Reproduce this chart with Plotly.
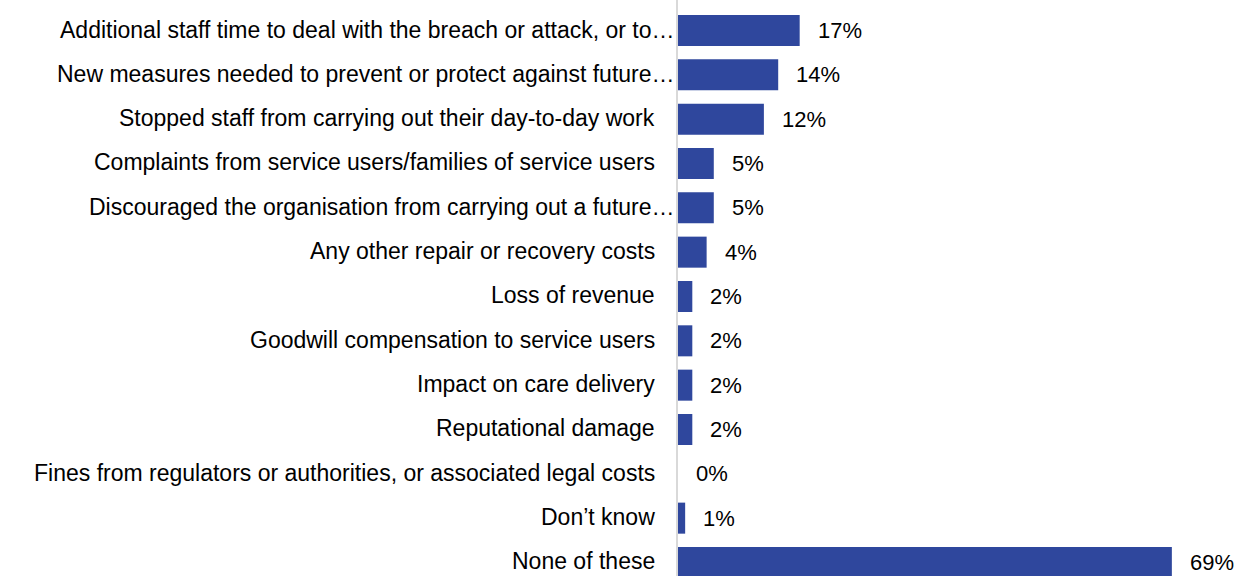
import plotly.graph_objects as go

# Impacts of the breach or attack, share of organisations (%)
categories = [
    "Additional staff time to deal with the breach or attack, or to…",
    "New measures needed to prevent or protect against future…",
    "Stopped staff from carrying out their day-to-day work",
    "Complaints from service users/families of service users",
    "Discouraged the organisation from carrying out a future…",
    "Any other repair or recovery costs",
    "Loss of revenue",
    "Goodwill compensation to service users",
    "Impact on care delivery",
    "Reputational damage",
    "Fines from regulators or authorities, or associated legal costs",
    "Don’t know",
    "None of these",
]
values = [17, 14, 12, 5, 5, 4, 2, 2, 2, 2, 0, 1, 69]
value_labels = [f"{v}%" for v in values]

BAR_COLOR = "#2F479D"
FONT = "Liberation Sans, Arial, sans-serif"

fig = go.Figure(
    go.Bar(
        x=values,
        y=categories,
        orientation="h",
        marker=dict(color=BAR_COLOR, line=dict(width=0)),
        width=0.7,
        hoverinfo="skip",
    )
)

annotations = []
for cat, v, lab in zip(categories, values, value_labels):
    # value label just past the end of each bar
    annotations.append(dict(
        x=v, y=cat, xref="x", yref="y", text=lab, showarrow=False,
        xanchor="left", yanchor="middle", xshift=16, yshift=0,
        font=dict(family=FONT, size=22, color="#000000"),
    ))
    # category label to the left of the axis; truncated labels run up to the axis
    truncated = cat.endswith("…")
    annotations.append(dict(
        x=0, y=cat, xref="paper", yref="y", text=cat, showarrow=False,
        xanchor="right", yanchor="middle", xshift=-1 if truncated else -21,
        yshift=1,
        font=dict(family=FONT, size=23, color="#000000"),
    ))

fig.update_layout(
    width=1247, height=576,
    margin=dict(l=678, r=5, t=0, b=0),
    paper_bgcolor="white", plot_bgcolor="white",
    showlegend=False,
    annotations=annotations,
    xaxis=dict(range=[0, 78.8], visible=False, fixedrange=True),
    yaxis=dict(
        categoryorder="array", categoryarray=categories,
        range=[12.305, -0.688],
        showticklabels=False, ticks="",
        showgrid=False, zeroline=False,
        showline=True, linecolor="#D9D9D9", linewidth=2,
        fixedrange=True,
    ),
)

fig.write_html("out.html")
